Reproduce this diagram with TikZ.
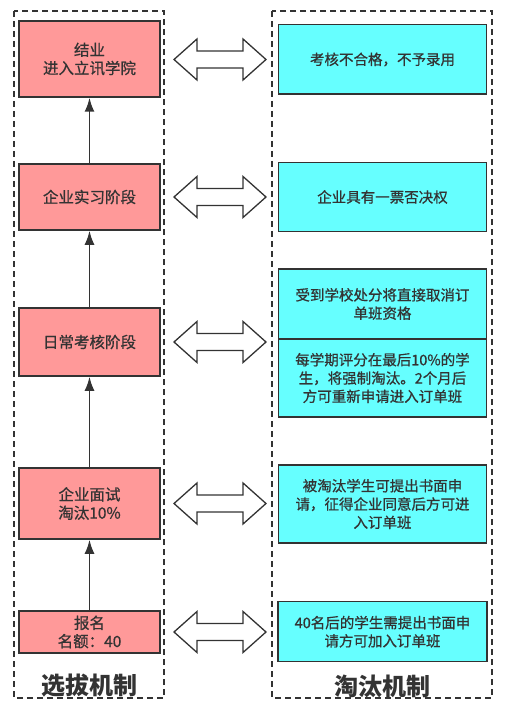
\documentclass[tikz,border=0pt]{standalone}
\usepackage{fontspec}
\setmainfont{Noto Sans CJK SC}
\newfontfamily\boxfont{Noto Sans CJK SC}[FakeBold=0.7]
\usetikzlibrary{arrows.meta}
\definecolor{edge}{HTML}{333333}
\definecolor{stagered}{HTML}{FF9999}
\definecolor{rulecyan}{HTML}{66FFFF}
\tikzset{
  stage/.style={draw=edge,fill=stagered,line width=1.5pt,minimum width=141pt,inner sep=0pt,align=center,text=edge,font=\boxfont\fontsize{15.5}{18.3}\selectfont},
  rulebox/.style={draw=edge,fill=rulecyan,line width=1.5pt,minimum width=208pt,inner sep=0pt,align=center,text=edge,font=\boxfont\fontsize{14.5}{18.3}\selectfont},
  lane/.style={draw=edge,line width=1.5pt,dash pattern=on 6pt off 4pt},
  link/.style={draw=edge,line width=1.8pt,-{Latex[length=14pt,width=10pt]}},
  twoway/.style={draw=edge,line width=1.3pt,fill=white},
  lanetitle/.style={text=edge,font=\fontsize{24}{28}\selectfont\bfseries}
}
\begin{document}
\begin{tikzpicture}[x=1pt,y=-1pt]
\useasboundingbox (0,0) rectangle (513,711);
% lanes
\draw[lane] (14,11) rectangle (164,698);
\draw[lane] (272,11) rectangle (492,698);
\node[lanetitle] (selTitle) at (89.5,686) {选拔机制};
\node[lanetitle] (outTitle) at (382.5,686) {淘汰机制};
% selection stages
\node[stage,minimum height=76pt] (graduate) at (89.5,59) {结业\\进入立讯学院};
\node[stage,minimum height=66pt] (intern) at (89.5,197) {企业实习阶段};
\node[stage,minimum height=68pt] (assess) at (89.5,342) {日常考核阶段};
\node[stage,minimum height=71pt] (interview) at (89.5,503.5) {企业面试\\淘汰10\%};
\node[stage,minimum height=42pt] (signup) at (89.5,632) {报名\\名额：40};
\draw[link] (signup) -- (interview);
\draw[link] (interview) -- (assess);
\draw[link] (assess) -- (intern);
\draw[link] (intern) -- (graduate);
% elimination rules
\node[rulebox,minimum height=69.5pt] (failExam) at (382.5,59.5) {考核不合格，不予录用};
\node[rulebox,minimum height=69pt] (veto) at (382.5,197) {企业具有一票否决权};
\node[rulebox,minimum height=70pt] (punish) at (382.5,304) {受到学校处分将直接取消订\\单班资格};
\node[rulebox,minimum height=77.7pt] (lastTen) at (382.5,378) {每学期评分在最后10\%的学\\生，将强制淘汰。2个月后\\方可重新申请进入订单班};
\node[rulebox,minimum height=78pt] (reapply) at (382.5,504) {被淘汰学生可提出书面申\\请，征得企业同意后方可进\\入订单班};
\node[rulebox,minimum height=60pt,minimum width=209pt] (overForty) at (382.5,631.7) {40名后的学生需提出书面申\\请方可加入订单班};
% double arrows
\foreach \c in {59.5,197,342,503.5,632}
  \draw[twoway] (174,\c) -- ++(23,-20.5) -- ++(0,12) -- ++(46,0) -- ++(0,-12) -- ++(23,20.5)
    -- ++(-23,20.5) -- ++(0,-12) -- ++(-46,0) -- ++(0,12) -- cycle;
\end{tikzpicture}
\end{document}
